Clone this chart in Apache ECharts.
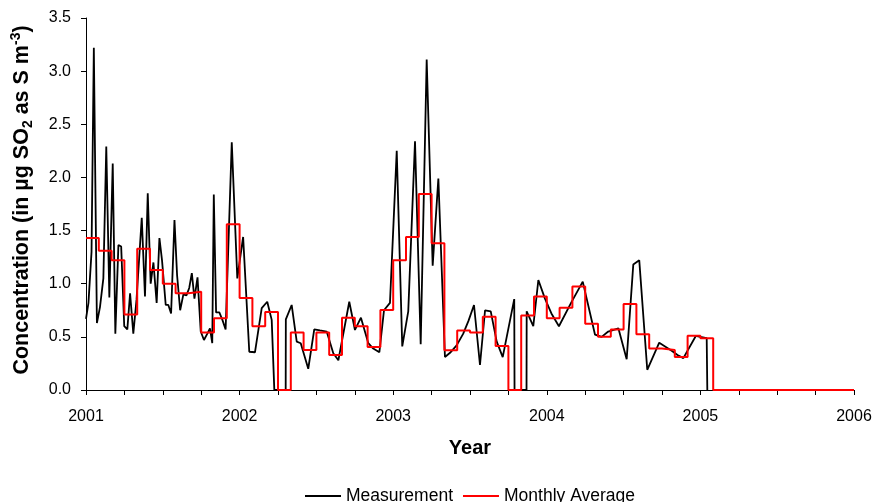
<!DOCTYPE html>
<html>
<head>
<meta charset="utf-8">
<script src="https://cdn.jsdelivr.net/npm/echarts@6/dist/echarts.min.js"></script>
<style>
  html, body { margin: 0; padding: 0; background: #fff; }
  #chart { width: 877px; height: 502px; }
</style>
</head>
<body>
<div id="chart"></div>
<script>
// Sampling times of the individual measurements, as decimal years
var measureYears = [
  2001.000, 2001.016, 2001.036, 2001.051, 2001.071, 2001.091, 2001.113, 2001.132, 2001.152, 2001.174,
  2001.191, 2001.211, 2001.229, 2001.249, 2001.269, 2001.287, 2001.308, 2001.329, 2001.363, 2001.384,
  2001.402, 2001.421, 2001.439, 2001.460, 2001.478, 2001.495, 2001.519, 2001.536, 2001.554, 2001.576,
  2001.593, 2001.613, 2001.634, 2001.654, 2001.672, 2001.689, 2001.706, 2001.726, 2001.747, 2001.768,
  2001.790, 2001.807, 2001.822, 2001.832, 2001.847, 2001.868, 2001.888, 2001.909, 2001.949, 2001.985,
  2002.023, 2002.063, 2002.100, 2002.144, 2002.180, 2002.209, 2002.226, 2002.300, 2002.301, 2002.339,
  2002.372, 2002.398, 2002.447, 2002.486, 2002.523, 2002.567, 2002.610, 2002.643, 2002.714, 2002.751,
  2002.790, 2002.838, 2002.870, 2002.910, 2002.940, 2002.979, 2003.023, 2003.059, 2003.098, 2003.142,
  2003.179, 2003.218, 2003.257, 2003.294, 2003.337, 2003.370, 2003.413, 2003.456, 2003.490, 2003.526,
  2003.565, 2003.598, 2003.635, 2003.674, 2003.713, 2003.788, 2003.790, 2003.868, 2003.869, 2003.912,
  2003.945, 2003.988, 2004.030, 2004.079, 2004.158, 2004.234, 2004.314, 2004.357, 2004.400, 2004.466,
  2004.520, 2004.563, 2004.602, 2004.654, 2004.732, 2004.770, 2004.813, 2004.851, 2004.889, 2004.971,
  2004.999, 2005.041, 2005.045
];

// Measured concentrations (µg SO2 as S per m³)
var measureValues = [
  0.67, 0.82, 1.30, 3.22, 0.63, 0.78, 1.05, 2.29, 0.87, 2.13,
  0.53, 1.365, 1.35, 0.60, 0.57, 0.91, 0.53, 0.85, 1.62, 0.88,
  1.85, 1.00, 1.20, 0.82, 1.43, 1.22, 0.80, 0.80, 0.72, 1.60,
  1.08, 0.75, 0.90, 0.89, 0.96, 1.10, 0.86, 1.06, 0.55, 0.47,
  0.53, 0.58, 0.44, 1.84, 0.73, 0.73, 0.66, 0.57, 2.33, 1.05,
  1.44, 0.36, 0.355, 0.77, 0.83, 0.66, 0, 0, 0.665, 0.80,
  0.455, 0.44, 0.20, 0.57, 0.56, 0.55, 0.345, 0.28, 0.83, 0.565,
  0.68, 0.44, 0.39, 0.355, 0.75, 0.82, 2.25, 0.41, 0.74, 2.34,
  0.43, 3.11, 1.17, 1.99, 0.31, 0.35, 0.42, 0.53, 0.65, 0.80,
  0.235, 0.75, 0.74, 0.455, 0.31, 0.855, 0, 0, 0.74, 0.60,
  1.035, 0.86, 0.72, 0.60, 0.82, 1.02, 0.52, 0.50, 0.55, 0.58,
  0.29, 1.18, 1.22, 0.19, 0.445, 0.41, 0.37, 0.33, 0.30, 0.51,
  0.50, 0.487, 0
];

// Monthly averages, January 2001 to December 2005 (0 where no data)
var avg2001 = [1.43, 1.31, 1.22, 0.71, 1.33, 1.13, 1.00, 0.91, 0.925, 0.54, 0.675, 1.56];
var avg2002 = [0.866, 0.60, 0.735, 0, 0.54, 0.377, 0.54, 0.33, 0.68, 0.60, 0.405, 0.753];
var avg2003 = [1.22, 1.44, 1.845, 1.38, 0.374, 0.56, 0.54, 0.69, 0.414, 0, 0.70, 0.88];
var avg2004 = [0.675, 0.775, 0.973, 0.624, 0.50, 0.57, 0.81, 0.524, 0.39, 0.377, 0.31, 0.51];
var avg2005 = [0.487, 0, 0, 0, 0, 0, 0, 0, 0, 0, 0, 0];
var firstYear = 2001;

var yearTicks = ['2001', '2002', '2003', '2004', '2005', '2006'];
var yTicks = ['0.0', '0.5', '1.0', '1.5', '2.0', '2.5', '3.0', '3.5'];

var FONT = "'Liberation Sans', Arial, sans-serif";

// measurement polyline
var measureData = measureYears.map(function (x, i) { return [x, measureValues[i]]; });

// monthly step line: each month held flat from its first to its last day
var monthly = [].concat(avg2001, avg2002, avg2003, avg2004, avg2005);
var monthlyData = [];
monthly.forEach(function (v, m) {
  monthlyData.push([firstYear + m / 12, v]);
  monthlyData.push([firstYear + (m + 1) / 12, v]);
});

var chart = echarts.init(document.getElementById('chart'), null, { renderer: 'canvas' });
chart.setOption({
  animation: false,
  backgroundColor: '#fff',
  textStyle: { fontFamily: FONT, color: '#000' },
  grid: { left: 86, right: 23, top: 18, bottom: 112, containLabel: false, outerBoundsMode: 'none' },
  legend: {
    top: 482,
    left: 300,
    icon: 'rect',
    itemWidth: 36,
    itemHeight: 2,
    itemGap: 10,
    textStyle: { fontFamily: FONT, fontSize: 17.5, color: '#000' },
    data: ['Measurement', 'Monthly Average']
  },
  xAxis: {
    type: 'value',
    min: Number(yearTicks[0]),
    max: Number(yearTicks[yearTicks.length - 1]),
    interval: 0.25,
    name: 'Year',
    nameLocation: 'middle',
    nameGap: 48,
    nameTextStyle: { fontFamily: FONT, fontSize: 20, fontWeight: 'bold', color: '#000' },
    axisLine: { show: true, onZero: false, lineStyle: { color: '#000', width: 1 } },
    axisTick: { show: true, inside: false, length: 5, lineStyle: { color: '#000', width: 1 } },
    axisLabel: {
      margin: 19,
      fontFamily: FONT,
      fontSize: 16,
      color: '#000',
      formatter: function (v) {
        var idx = yearTicks.indexOf(String(Math.round(v)));
        return Math.abs(v - Math.round(v)) < 1e-6 && idx >= 0 ? yearTicks[idx] : '';
      }
    },
    splitLine: { show: false }
  },
  yAxis: {
    type: 'value',
    min: 0,
    max: 3.5,
    interval: 0.5,
    name: '{b|Concentration (in µg SO}{sub|2}{b| as S m}{sup|-3}{b|)}',
    nameLocation: 'middle',
    nameGap: 51,
    nameTextStyle: {
      fontFamily: FONT,
      fontSize: 21.5,
      fontWeight: 'bold',
      color: '#000',
      padding: [0, 0, 0, 8],
      rich: {
        b: { fontFamily: FONT, fontSize: 21.5, fontWeight: 'bold', color: '#000', lineHeight: 26 },
        sub: { fontFamily: FONT, fontSize: 14, fontWeight: 'bold', color: '#000', lineHeight: 15, verticalAlign: 'bottom' },
        sup: { fontFamily: FONT, fontSize: 14, fontWeight: 'bold', color: '#000', lineHeight: 15, verticalAlign: 'top' }
      }
    },
    axisLine: { show: true, lineStyle: { color: '#000', width: 1 } },
    axisTick: { show: true, inside: false, length: 5, lineStyle: { color: '#000', width: 1 } },
    axisLabel: {
      margin: 15,
      fontFamily: FONT,
      fontSize: 16,
      color: '#000',
      formatter: function (v) { return yTicks[Math.round(v / 0.5)]; }
    },
    splitLine: { show: false }
  },
  series: [
    {
      name: 'Measurement',
      type: 'line',
      data: measureData,
      symbol: 'none',
      showSymbol: false,
      lineStyle: { color: '#000000', width: 1.8 },
      itemStyle: { color: '#000000' },
      z: 2
    },
    {
      name: 'Monthly Average',
      type: 'line',
      data: monthlyData,
      symbol: 'none',
      showSymbol: false,
      lineStyle: { color: '#ff0000', width: 2 },
      itemStyle: { color: '#ff0000' },
      z: 3
    }
  ]
});
</script>
</body>
</html>
